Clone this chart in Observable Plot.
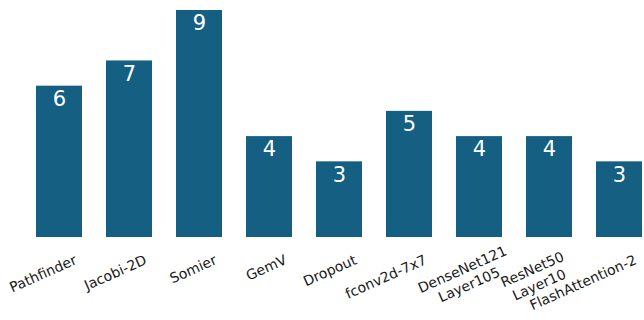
<!DOCTYPE html>
<html>
<head>
<meta charset="utf-8">
<script src="https://cdn.jsdelivr.net/npm/d3@7"></script>
<script src="https://cdn.jsdelivr.net/npm/@observablehq/plot@0.6"></script>
<style>
  html, body { margin: 0; padding: 0; background: #ffffff; }
  #chart svg { display: block; }
</style>
</head>
<body>
<div id="chart"></div>
<script>
const categories = ["Pathfinder", "Jacobi-2D", "Somier", "GemV", "Dropout", "fconv2d-7x7", "DenseNet121\nLayer105", "ResNet50\nLayer10", "FlashAttention-2"];
const values = [6, 7, 9, 4, 3, 5, 4, 4, 3];

const data = categories.map((c, i) => ({category: c, value: values[i]}));
const singleLine = data.filter(d => !d.category.includes("\n"));
const multiLine = data.filter(d => d.category.includes("\n"));

const labelStyle = {fill: "#1a1a1a", fontSize: 14, rotate: -24, lineHeight: 1.2};

const chart = Plot.plot({
  width: 644,
  height: 320,
  marginLeft: 36,
  marginRight: 2,
  marginTop: 10,
  marginBottom: 83,
  style: {fontFamily: "DejaVu Sans, Verdana, sans-serif", background: "#ffffff", overflow: "visible"},
  x: {domain: categories, paddingInner: 0.343, paddingOuter: 0, axis: null},
  y: {domain: [0, 9], axis: null},
  marks: [
    Plot.barY(data, {x: "category", y: "value", fill: "#156082"}),
    Plot.text(data, {
      x: "category", y: "value", text: d => String(d.value),
      dy: 13, fill: "#ffffff", fontSize: 21, textAnchor: "middle", lineAnchor: "middle"
    }),
    Plot.text(singleLine, {
      x: "category", y: () => 0, text: "category",
      dx: 16, dy: 21, textAnchor: "end", lineAnchor: "middle", ...labelStyle
    }),
    Plot.text(multiLine, {
      x: "category", y: () => 0, text: "category",
      dx: -14, dy: 39, textAnchor: "middle", lineAnchor: "middle", ...labelStyle
    })
  ]
});
document.getElementById("chart").appendChild(chart);
</script>
</body>
</html>
